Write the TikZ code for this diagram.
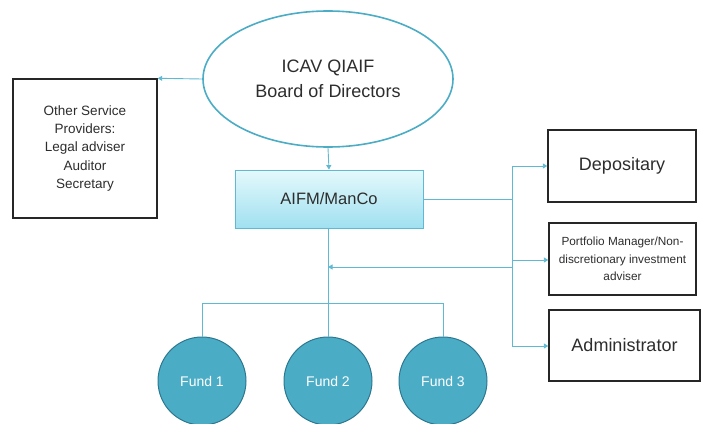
\documentclass[tikz,border=0pt]{standalone}
\usepackage{fontspec}
\setmainfont{Liberation Sans}
\usetikzlibrary{arrows.meta,shapes.geometric}
\definecolor{lnblue}{RGB}{95,185,210}
\definecolor{ellblue}{RGB}{75,172,198}
\definecolor{fundfill}{RGB}{75,172,198}
\definecolor{funddraw}{RGB}{45,120,145}
\definecolor{mantop}{RGB}{228,249,252}
\definecolor{manbot}{RGB}{160,224,240}
\definecolor{txt}{RGB}{45,45,45}
\tikzset{
  conn/.style={draw=lnblue, line width=0.9pt},
  arr/.style={conn, -{Triangle[width=5pt,length=4.5pt]}},
  bbox/.style={draw=black!85, line width=1.4pt, rectangle, align=center, text=txt, inner sep=2pt},
  fund/.style={circle, fill=fundfill, draw=funddraw, line width=1pt, minimum size=88pt, text=white, font=\fontsize{14}{16}\selectfont},
}
\begin{document}
\begin{tikzpicture}[x=1pt,y=-1pt]
\useasboundingbox (0,0) rectangle (704,423);
\node[ellipse, draw=ellblue, line width=1.6pt, minimum width=250pt, minimum height=136pt, align=center, text=txt, font=\fontsize{18}{25}\selectfont] (board) at (328,79) {ICAV QIAIF\\Board of Directors};
\node[bbox, minimum width=144pt, minimum height=139pt, font=\fontsize{13.5}{18.2}\selectfont] (other) at (85,148.5) {Other Service\\Providers:\\Legal adviser\\Auditor\\Secretary};
\node[rectangle, draw=lnblue, line width=0.8pt, top color=mantop, bottom color=manbot, minimum width=188pt, minimum height=58pt, text=txt, font=\fontsize{16.5}{18}\selectfont] (aifm) at (329,199) {AIFM/ManCo};
\node[bbox, minimum width=148pt, minimum height=72pt, font=\fontsize{18}{20}\selectfont] (dep) at (622,166) {Depositary};
\node[bbox, minimum width=147pt, minimum height=72pt, inner sep=1pt, font=\fontsize{11.8}{17.5}\selectfont] (pm) at (622.5,259) {Portfolio Manager/Non-\\discretionary investment\\adviser};
\node[bbox, minimum width=151pt, minimum height=71pt, font=\fontsize{18}{20}\selectfont] (adm) at (624.5,345.5) {Administrator};
\node[fund] (f1) at (202,381) {Fund 1};
\node[fund] (f2) at (328,381) {Fund 2};
\node[fund] (f3) at (443,381) {Fund 3};
% coordinates
\coordinate (rtop) at (512,166);
\coordinate (rmid) at (512,199);
\coordinate (rpm) at (512,260);
\coordinate (rback) at (512,267);
\coordinate (rbot) at (512,346);
\coordinate (cback) at (328,267);
\coordinate (bus) at (328,303);
% connectors
\draw[arr] (board.west) -- (other.north east);
\draw[arr] (board.south) -- (aifm.north);
\draw[conn] (aifm.east |- rmid) -- (rmid);
\draw[conn] (rtop) -- (rbot);
\draw[arr] (rtop) -- (dep.west |- rtop);
\draw[arr] (rpm) -- (pm.west |- rpm);
\draw[arr] (rbot) -- (adm.west |- rbot);
\draw[arr] (rback) -- (cback);
\draw[conn] (aifm.south -| f2) -- (f2.north);
\draw[conn] (f1.north) -- (f1.north |- bus) -- (f3.north |- bus) -- (f3.north);
\end{tikzpicture}
\end{document}
